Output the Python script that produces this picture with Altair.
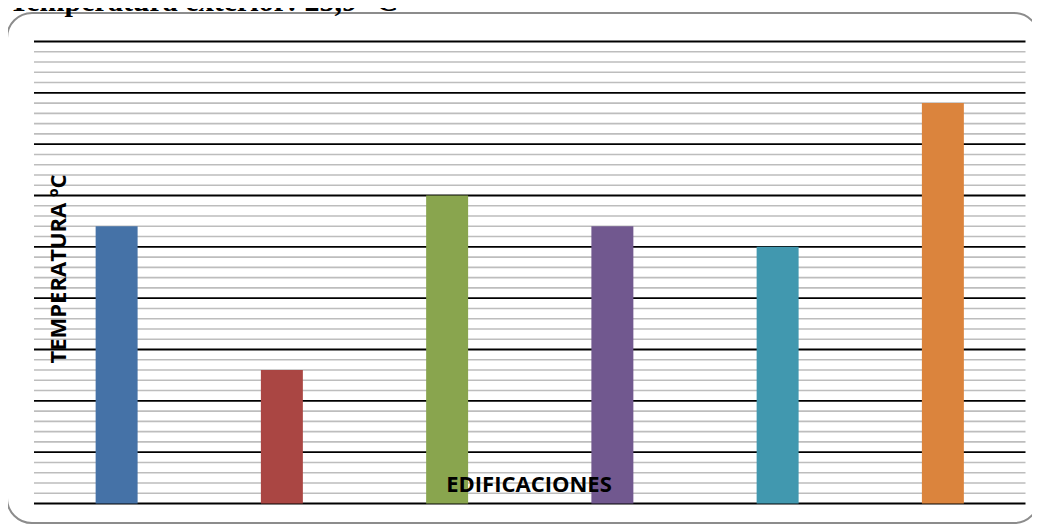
import altair as alt
import pandas as pd

# ---- data ----
edificios = ["Edificio 1", "Edificio 2", "Edificio 3", "Edificio 4", "Edificio 5", "Edificio 6"]
temperaturas = [27.4, 24.6, 28.0, 27.4, 27.0, 29.8]
colores = ["#4572A7", "#AA4643", "#89A54E", "#71588F", "#4198AF", "#DB843D"]

titulo = "Temperatura exterior: 25,9 °C"
titulo_y = "TEMPERATURA ºC"
titulo_x = "EDIFICACIONES"

y_min, y_max = 22, 31
major_ticks = [22, 23, 24, 25, 26, 27, 28, 29, 30, 31]
minor_ticks = [round(y_min + 0.2 * i, 1) for i in range(46) if i % 5 != 0]

df = pd.DataFrame({"edificio": edificios, "temp": temperaturas})
df_major = pd.DataFrame({"v": major_ticks})
df_minor = pd.DataFrame({"v": minor_ticks})
one = pd.DataFrame({"t": [titulo]})

W, H = 991.5, 462
yscale = alt.Scale(domain=[y_min, y_max], nice=False, zero=False)

minor = alt.Chart(df_minor).mark_rule(color="#bdbdbd", strokeWidth=1.6).encode(
    y=alt.Y("v:Q", scale=yscale, axis=None)
)
major = alt.Chart(df_major).mark_rule(color="#000000", strokeWidth=1.8).encode(
    y=alt.Y("v:Q", scale=yscale, axis=None)
)
bars = alt.Chart(df).mark_bar().encode(
    x=alt.X("edificio:N", sort=edificios, axis=None,
            scale=alt.Scale(paddingInner=0.746, paddingOuter=0.373)),
    y=alt.Y("temp:Q", scale=yscale, axis=None),
    y2=alt.datum(y_min),
    color=alt.Color("edificio:N", sort=edificios, legend=None,
                    scale=alt.Scale(domain=edificios, range=colores)),
)

border = alt.Chart(one).mark_rect(
    filled=False, stroke="#8c8c8c", strokeWidth=2, cornerRadius=25
).encode(
    x=alt.value(-27), x2=alt.value(1005), y=alt.value(-28.5), y2=alt.value(481.5)
)

title_txt = alt.Chart(one).mark_text(
    font="Liberation Serif", fontWeight="bold", fontSize=30,
    align="left", baseline="alphabetic", color="#000000"
).encode(x=alt.value(-25), y=alt.value(-31), text="t:N")

ytitle = alt.Chart(pd.DataFrame({"t": [titulo_y]})).mark_text(
    font="Open Sans", fontWeight="bold", fontSize=22, angle=270,
    align="center", baseline="alphabetic", color="#000000"
).encode(x=alt.value(32), y=alt.value(227.5), text="t:N")

xtitle = alt.Chart(pd.DataFrame({"t": [titulo_x]})).mark_text(
    font="Open Sans", fontWeight="bold", fontSize=22,
    align="center", baseline="alphabetic", color="#000000"
).encode(x=alt.value(495), y=alt.value(450), text="t:N")

chart = alt.layer(minor, major, bars, ytitle, xtitle, border, title_txt).properties(
    width=W, height=H,
    autosize=alt.AutoSizeParams(type="none"),
    padding={"left": 26, "top": 33.5, "right": 6.5, "bottom": 21.5},
    background="white",
).configure_view(stroke=None)

chart.save("out.html", embed_options={"renderer": "svg", "actions": False})
